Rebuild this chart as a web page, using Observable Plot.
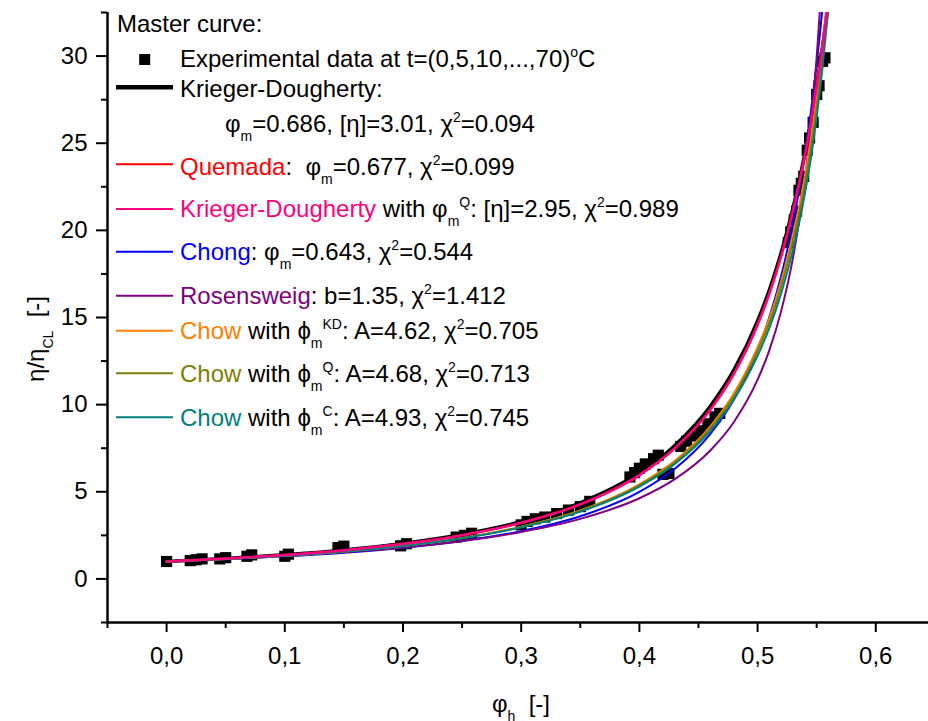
<!DOCTYPE html>
<html><head><meta charset="utf-8">
<script src="https://cdn.jsdelivr.net/npm/d3@7"></script>
<script src="https://cdn.jsdelivr.net/npm/@observablehq/plot@0.6"></script>
<style>
body{margin:0;background:#fff;}
svg text{white-space:pre;}
</style></head><body><div id="chart"></div>
<script>
// Experimental master-curve data (phi_h, eta/eta_CL)
const expPhi = [0.000,0.020,0.025,0.030,0.045,0.050,0.068,0.072,0.100,0.103,0.145,0.150,0.198,0.203,0.245,0.252,0.258,0.300,0.305,0.312,0.320,0.330,0.340,0.350,0.358,0.392,0.396,0.400,0.405,0.412,0.416,0.420,0.425,0.435,0.440,0.447,0.452,0.458,0.464,0.468,0.526,0.528,0.531,0.533,0.535,0.537,0.539,0.542,0.544,0.547,0.550,0.552,0.555,0.557];
const expEta = [1.00,1.05,1.10,1.15,1.15,1.22,1.30,1.38,1.30,1.42,1.80,1.88,1.90,2.02,2.40,2.50,2.62,3.10,3.30,3.45,3.55,3.75,3.95,4.15,4.45,5.85,6.10,6.35,6.60,6.90,7.10,6.00,6.05,7.60,7.90,8.20,8.50,8.90,9.30,9.50,19.3,19.9,20.6,21.1,22.3,22.7,23.1,24.6,25.3,26.2,27.8,28.3,29.7,29.9];

// Fitted curves, read on a common phi grid
const curvePhi = [0,0.05,0.1,0.15,0.2,0.25,0.3,0.35,0.4,0.43,0.46,0.48,0.5,0.51,0.52,0.53,0.54,0.545,0.55,0.555,0.56,0.565];
const etaKD    = [1,1.169,1.385,1.665,2.037,2.550,3.279,4.367,6.09,7.66,9.91,11.99,14.81,16.59,18.73,21.29,24.41,26.24,28.25,30.53,33.09,36.0];
const etaQ     = [1,1.166,1.377,1.650,2.014,2.514,3.225,4.286,5.973,7.513,9.733,11.81,14.63,16.43,18.59,21.21,24.42,26.30,28.42,30.79,33.48,36.5];
const etaKDQ   = [1,1.166,1.376,1.649,2.012,2.510,3.219,4.277,5.957,7.49,9.70,11.77,14.57,16.36,18.50,21.11,24.30,26.17,28.28,30.63,33.30,36.3];
const etaChong = [1,1.131,1.295,1.509,1.792,2.182,2.742,3.595,4.993,6.321,8.325,10.30,13.12,15.02,17.39,20.41,24.32,26.74,29.55,32.83,36.73,41.4];
const etaRos   = [1,1.139,1.310,1.526,1.805,2.177,2.692,3.444,4.630,5.727,7.371,9.006,11.43,13.13,15.38,18.45,22.90,25.99,29.96,35.30,42.8,54.2];
const etaChowKD= [1,1.15,1.33,1.58,1.91,2.35,3.00,3.93,5.43,6.78,8.75,10.65,13.3,14.95,17.1,19.8,23.1,25.2,27.7,30.7,34.3,38.8];
const etaChowQ = [1,1.15,1.33,1.57,1.90,2.34,2.98,3.90,5.38,6.70,8.65,10.5,13.1,14.7,16.8,19.4,22.6,24.7,27.1,30.1,33.6,38.0];
const etaChowC = [1,1.15,1.33,1.57,1.89,2.33,2.96,3.86,5.30,6.60,8.50,10.3,12.8,14.4,16.4,18.9,22.1,24.1,26.5,29.4,32.9,37.2];

const xTicks = [0,0.1,0.2,0.3,0.4,0.5,0.6];
const xMinor = [-0.05,0.05,0.15,0.25,0.35,0.45,0.55];
const yTicks = [0,5,10,15,20,25,30];
const yMinor = [-2.5,2.5,7.5,12.5,17.5,22.5,27.5,32.5];

const seriesNames  = ["KD","Quemada","Chong","Rosensweig","ChowKD","ChowQ","ChowC","KDQ"];
const seriesValues = [etaKD,etaQ,etaChong,etaRos,etaChowKD,etaChowQ,etaChowC,etaKDQ];
const seriesColors = ["#000000","#ff0000","#0000ff","#800080","#ff8000","#808000","#008080","#ff0080"];
const seriesWidths = [3.5,2,2,2,2,2,2,2.5];

const font = '"Liberation Sans", Arial, Helvetica, sans-serif';

const expData = expPhi.map((p,i)=>({phi:p, eta:expEta[i]}));
const curveMarks = seriesNames.map((n,k)=>Plot.line(curvePhi.map((p,i)=>({phi:p, eta:seriesValues[k][i]})),
  {x:"phi", y:"eta", stroke:seriesColors[k], strokeWidth:seriesWidths[k], curve:"monotone-x", clip:true}));

const fmtX = d => d.toFixed(1).replace(".", ",");

const plot = Plot.plot({
  width: 928, height: 721,
  marginLeft: 107, marginRight: 0, marginTop: 12, marginBottom: 99,
  style: {fontFamily: font, fontSize: "24px", color: "black", background: "white", overflow: "visible"},
  x: {domain: [-0.05, 0.6446]},
  y: {domain: [-2.5, 32.5]},
  marks: [
    Plot.dot(expData, {x:"phi", y:"eta", symbol:"square", r:6.3, fill:"black", stroke:"none"}),
    ...curveMarks,
    Plot.ruleY([-2.5], {strokeWidth:2.5, stroke:"black"}),
    Plot.ruleX([-0.05], {strokeWidth:2.5, stroke:"black"}),
    Plot.axisX(xTicks, {tickSize:10, tickPadding:14, tickFormat:fmtX, strokeWidth:2, fontSize:24, label:null}),
    Plot.axisX(xMinor, {tickSize:6, tickFormat:()=>"", strokeWidth:2, label:null}),
    Plot.axisY(yTicks, {tickSize:11, tickPadding:9, tickFormat:d=>String(d), strokeWidth:2, fontSize:24, label:null}),
    Plot.axisY(yMinor, {tickSize:6, tickFormat:()=>"", strokeWidth:2, label:null})
  ]
});
document.getElementById("chart").appendChild(plot);

// ---- legend and axis titles (rich text with sub/superscripts)
const svg = d3.select(plot);
function rich(parent, x, y, segs, opts={}) {
  const t = parent.append("text").attr("x", x).attr("y", y)
    .attr("font-size", 24).attr("font-family", font).attr("fill", "black")
    .attr("text-anchor", opts.anchor || "start");
  if (opts.transform) t.attr("transform", opts.transform);
  let off = 0;
  for (const s of segs) {
    const target = s.s === "sub" ? 9 : s.s === "sup" ? -10 : 0;
    const ts = t.append("tspan").attr("dy", target - off).text(s.t);
    if (s.s) ts.attr("font-size", 14);
    if (s.c) ts.attr("fill", s.c);
    off = target;
  }
  return t;
}
const L = svg.append("g").attr("text-anchor", "start");
const legendRows = [
  {y:32, x:117, segs:[{t:"Master curve:"}]},
  {y:66.7, x:180, sym:"square", segs:[{t:"Experimental data at t=(0,5,10,...,70)"},{t:"o",s:"sup"},{t:"C"}]},
  {y:97.3, x:180, line:[87.3,"#000000",4.5], segs:[{t:"Krieger-Dougherty:"}]},
  {y:131.7, x:225, segs:[{t:"φ"},{t:"m",s:"sub"},{t:"=0.686, [η]=3.01, χ"},{t:"2",s:"sup"},{t:"=0.094"}]},
  {y:174.5, x:180, line:[164.3,"#ff0000",2], segs:[{t:"Quemada",c:"#ff0000"},{t:":  φ"},{t:"m",s:"sub"},{t:"=0.677, χ"},{t:"2",s:"sup"},{t:"=0.099"}]},
  {y:216.7, x:180, line:[209,"#ff0080",2], segs:[{t:"Krieger-Dougherty",c:"#ff0080"},{t:" with φ"},{t:"m",s:"sub"},{t:"Q",s:"sup"},{t:": [η]=2.95, χ"},{t:"2",s:"sup"},{t:"=0.989"}]},
  {y:259.5, x:180, line:[251.7,"#0000ff",2], segs:[{t:"Chong",c:"#0000ff"},{t:": φ"},{t:"m",s:"sub"},{t:"=0.643, χ"},{t:"2",s:"sup"},{t:"=0.544"}]},
  {y:304, x:180, line:[295.7,"#800080",2], segs:[{t:"Rosensweig",c:"#800080"},{t:": b=1.35, χ"},{t:"2",s:"sup"},{t:"=1.412"}]},
  {y:339, x:180, line:[330.7,"#ff8000",2], segs:[{t:"Chow",c:"#ff8000"},{t:" with ϕ"},{t:"m",s:"sub"},{t:"KD",s:"sup"},{t:": A=4.62, χ"},{t:"2",s:"sup"},{t:"=0.705"}]},
  {y:382, x:180, line:[373.3,"#808000",2], segs:[{t:"Chow",c:"#808000"},{t:" with ϕ"},{t:"m",s:"sub"},{t:"Q",s:"sup"},{t:": A=4.68, χ"},{t:"2",s:"sup"},{t:"=0.713"}]},
  {y:425.5, x:180, line:[417.3,"#008080",2], segs:[{t:"Chow",c:"#008080"},{t:" with ϕ"},{t:"m",s:"sub"},{t:"C",s:"sup"},{t:": A=4.93, χ"},{t:"2",s:"sup"},{t:"=0.745"}]}
];
for (const r of legendRows) {
  if (r.sym === "square") L.append("rect").attr("x", 139.2).attr("y", 54).attr("width", 11).attr("height", 11).attr("fill", "black");
  if (r.line) L.append("line").attr("x1", 116).attr("x2", 173).attr("y1", r.line[0]).attr("y2", r.line[0])
      .attr("stroke", r.line[1]).attr("stroke-width", r.line[2]);
  rich(L, r.x, r.y, r.segs);
}
// axis titles
rich(svg, 0, 0, [{t:"η/η"},{t:"CL",s:"sub"},{t:"  [-]"}], {anchor:"middle", transform:"translate(44,339) rotate(-90)"});
rich(svg, 521, 712, [{t:"φ"},{t:"h",s:"sub"},{t:"  [-]"}], {anchor:"middle"});
</script></body></html>
